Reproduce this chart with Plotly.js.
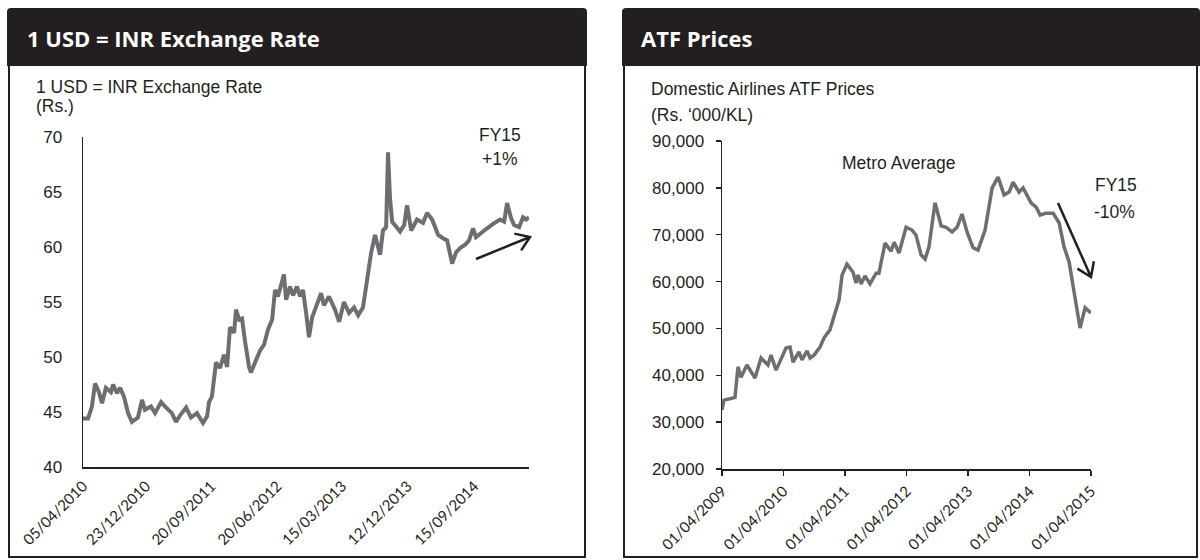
<!DOCTYPE html>
<html>
<head>
<meta charset="utf-8">
<script src="https://cdn.plot.ly/plotly-3.0.1.min.js"></script>
<style>
  html, body { margin: 0; padding: 0; background: #ffffff; }
  #chart { width: 1200px; height: 560px; }
</style>
</head>
<body>
<div id="chart"></div>
<script>
// ---------------- DATA ----------------
// Left panel: 1 USD = INR exchange rate (Rs.)
const usdDates = [
  '2010-04-05','2010-04-26','2010-05-12','2010-05-25','2010-06-10','2010-06-23','2010-07-09','2010-07-30',
  '2010-08-08','2010-08-24','2010-09-06','2010-09-22','2010-10-09','2010-10-25','2010-11-19','2010-12-06',
  '2010-12-18','2011-01-12','2011-01-29','2011-02-23','2011-03-16','2011-04-09','2011-04-26','2011-05-13',
  '2011-06-07','2011-06-27','2011-07-22','2011-08-16','2011-09-02','2011-09-10','2011-09-22','2011-10-09',
  '2011-10-26','2011-11-11','2011-11-24','2011-12-06','2011-12-23','2011-12-31','2012-01-13','2012-01-25',
  '2012-02-06','2012-02-23','2012-03-02','2012-03-23','2012-04-09','2012-04-25','2012-05-12','2012-05-29',
  '2012-06-10','2012-06-22','2012-07-05','2012-07-17','2012-07-26','2012-08-11','2012-08-24','2012-09-09',
  '2012-09-22','2012-10-04','2012-10-17','2012-10-29','2012-11-11','2012-11-27','2012-12-18','2012-12-30',
  '2013-01-20','2013-02-14','2013-03-03','2013-03-23','2013-04-13','2013-05-04','2013-05-21','2013-06-10',
  '2013-06-27','2013-07-14','2013-07-30','2013-08-20','2013-09-01','2013-09-14','2013-09-22','2013-09-30',
  '2013-10-09','2013-10-25','2013-11-11','2013-11-28','2013-12-10','2013-12-27','2014-01-20','2014-02-14',
  '2014-03-03','2014-03-24','2014-04-18','2014-05-08','2014-05-25','2014-06-15','2014-07-01','2014-07-18',
  '2014-08-08','2014-08-24','2014-09-10','2014-09-22','2014-10-17','2014-11-07','2014-12-02','2014-12-31',
  '2015-01-17','2015-01-29','2015-02-15','2015-02-27','2015-03-20','2015-04-05','2015-04-18','2015-04-30'
];
const usdValues = [
  44.4,44.4,45.5,47.6,46.8,45.8,47.2,46.8,
  47.5,46.7,47.2,46.4,44.9,44.1,44.5,46.1,
  45.2,45.5,44.9,45.9,45.4,44.9,44.1,44.7,
  45.4,44.5,44.9,44.0,44.6,45.9,46.4,49.5,
  49.0,50.2,49.1,52.7,52.2,54.3,53.4,53.5,
  51.5,49.1,48.6,49.7,50.6,51.1,52.5,53.4,
  56.1,55.5,56.7,57.5,55.2,56.4,55.6,56.4,
  55.5,56.1,54.0,51.8,53.6,54.5,55.8,54.7,
  55.5,54.3,53.2,55.0,54.0,54.5,53.8,54.5,
  57.0,59.5,61.1,59.3,61.5,61.8,68.6,64.5,
  62.3,61.8,61.4,62.0,63.8,61.5,62.5,62.2,
  63.1,62.5,61.1,60.8,60.6,58.5,59.5,59.9,
  60.2,60.6,61.7,60.9,61.4,61.7,62.1,62.5,
  62.3,64.0,62.6,62.0,61.8,62.7,62.5,62.7
];
const usdTickDates = ['2010-04-05','2010-12-23','2011-09-20','2012-06-20','2013-03-15','2013-12-12','2014-09-15'];
const usdTickText  = ['05/04/2010','23/12/2010','20/09/2011','20/06/2012','15/03/2013','12/12/2013','15/09/2014'];
const usdYTicks = [40,45,50,55,60,65,70];

// Right panel: Domestic airlines ATF prices, metro average (Rs./KL)
const atfDates = [
  '2009-04-01','2009-04-13','2009-05-30','2009-06-17','2009-07-05','2009-07-23','2009-08-27','2009-10-14',
  '2009-11-19','2009-12-30','2010-01-17','2010-02-16','2010-04-16','2010-05-10','2010-05-28','2010-07-02',
  '2010-07-20','2010-08-19','2010-09-06','2010-09-29','2010-11-04','2010-11-28','2011-01-02','2011-01-20',
  '2011-02-25','2011-03-15','2011-04-13','2011-05-19','2011-06-06','2011-06-18','2011-07-06','2011-07-29',
  '2011-08-28','2011-10-03','2011-10-20','2011-11-25','2011-12-31','2012-01-18','2012-02-16','2012-03-29',
  '2012-05-03','2012-05-27','2012-06-26','2012-07-20','2012-08-12','2012-09-17','2012-10-23','2012-11-21',
  '2012-12-27','2013-01-26','2013-02-24','2013-03-26','2013-05-01','2013-05-30','2013-07-11','2013-08-22',
  '2013-09-26','2013-11-01','2013-12-01','2013-12-24','2014-01-29','2014-02-22','2014-04-10','2014-05-10',
  '2014-06-03','2014-07-08','2014-08-19','2014-09-24','2014-10-23','2014-11-22','2014-12-27','2015-01-26',
  '2015-02-25','2015-04-01'
];
const atfValues = [
  32600,34700,35100,35300,41800,39600,42200,39400,
  43700,42200,44300,41100,45800,46000,42800,45000,
  43300,45200,43700,44300,46000,48000,49700,51800,
  56100,61400,63700,62000,59700,61400,59500,61200,
  59500,61800,61800,68200,66500,68400,66100,71600,
  71000,69900,65700,64800,67400,76800,71900,71600,
  70600,71600,74400,70600,67200,66700,71000,80000,
  82300,78500,79100,81200,79100,80000,76800,75900,
  74200,74600,74600,72500,67400,64200,56100,50100,
  54400,53300
];
const atfTickDates = ['2009-04-01','2010-04-01','2011-04-01','2012-04-01','2013-04-01','2014-04-01','2015-04-01'];
const atfTickText  = ['01/04/2009','01/04/2010','01/04/2011','01/04/2012','01/04/2013','01/04/2014','01/04/2015'];
const atfYTicks = [20000,30000,40000,50000,60000,70000,80000,90000];

// ---------------- LAYOUT HELPERS ----------------
const W = 1200, H = 560;
const px = x => x / W;
const py = y => 1 - y / H;
const INK = '#231f20';
const LINE = '#6d6e71';
const NARROW = '"Liberation Sans", Arial, sans-serif';
const HUMAN = 'Lato, "Open Sans", sans-serif';

function headerPath(x0, y0, x1, y1, r) {
  return `M ${px(x0)},${py(y1)} L ${px(x0)},${py(y0 + r)} Q ${px(x0)},${py(y0)} ${px(x0 + r)},${py(y0)} ` +
         `L ${px(x1 - r)},${py(y0)} Q ${px(x1)},${py(y0)} ${px(x1)},${py(y0 + r)} L ${px(x1)},${py(y1)} Z`;
}
function arrowPath(x0, y0, x1, y1, len, ang) {
  const a = Math.atan2(y0 - y1, x0 - x1);
  const p1 = [x1 + len * Math.cos(a + ang), y1 + len * Math.sin(a + ang)];
  const p2 = [x1 + len * Math.cos(a - ang), y1 + len * Math.sin(a - ang)];
  return `M ${px(x0)},${py(y0)} L ${px(x1)},${py(y1)} M ${px(p1[0])},${py(p1[1])} L ${px(x1)},${py(y1)} L ${px(p2[0])},${py(p2[1])}`;
}

const data = [
  { x: usdDates, y: usdValues, type: 'scatter', mode: 'lines', xaxis: 'x', yaxis: 'y',
    line: { color: LINE, width: 4 }, hoverinfo: 'skip' },
  { x: atfDates, y: atfValues, type: 'scatter', mode: 'lines', xaxis: 'x2', yaxis: 'y2',
    line: { color: LINE, width: 3.5 }, hoverinfo: 'skip' }
];

const tickFontY = { family: NARROW, size: 17, color: INK };
const tickFontX = { family: HUMAN, size: 15, color: INK };

const layout = {
  width: W, height: H,
  margin: { l: 0, r: 0, t: 0, b: 0 },
  paper_bgcolor: '#ffffff', plot_bgcolor: 'rgba(0,0,0,0)',
  showlegend: false,
  xaxis: {
    domain: [px(83), px(529)], anchor: 'y', type: 'date',
    range: ['2010-04-05', '2015-04-30'],
    tickmode: 'array', tickvals: usdTickDates, ticktext: usdTickText, tickangle: -45,
    ticks: '', showgrid: false, zeroline: false,
    showline: true, linecolor: INK, linewidth: 1.5,
    tickfont: tickFontX, ticklabelstandoff: 3
  },
  yaxis: {
    domain: [py(467), py(137)], anchor: 'x', range: [40, 70],
    tickmode: 'array', tickvals: usdYTicks,
    ticks: '', showgrid: false, zeroline: false,
    showline: true, linecolor: INK, linewidth: 1.5,
    tickfont: tickFontY, ticklabelstandoff: 16
  },
  xaxis2: {
    domain: [px(722), px(1091)], anchor: 'y2', type: 'date',
    range: ['2009-04-01', '2015-04-01'],
    tickmode: 'array', tickvals: atfTickDates, ticktext: atfTickText, tickangle: -45,
    ticks: 'outside', ticklen: 5, tickwidth: 1.5, tickcolor: INK,
    showgrid: false, zeroline: false,
    showline: true, linecolor: INK, linewidth: 1.5,
    tickfont: tickFontX, ticklabelstandoff: 1
  },
  yaxis2: {
    domain: [py(469), py(141)], anchor: 'x2', range: [20000, 90000],
    tickmode: 'array', tickvals: atfYTicks, tickformat: ',d',
    ticks: 'outside', ticklen: 5, tickwidth: 1.5, tickcolor: INK,
    showgrid: false, zeroline: false,
    showline: true, linecolor: INK, linewidth: 1.5,
    tickfont: tickFontY, ticklabelstandoff: 8
  },
  shapes: [
    { type: 'rect', xref: 'paper', yref: 'paper', x0: px(9), x1: px(585), y0: py(557), y1: py(64),
      line: { color: INK, width: 2 }, fillcolor: 'rgba(0,0,0,0)', layer: 'below' },
    { type: 'rect', xref: 'paper', yref: 'paper', x0: px(624), x1: px(1197), y0: py(557), y1: py(64),
      line: { color: INK, width: 2 }, fillcolor: 'rgba(0,0,0,0)', layer: 'below' },
    { type: 'path', xref: 'paper', yref: 'paper', path: headerPath(7, 8, 587, 66, 4),
      fillcolor: INK, line: { width: 0 }, layer: 'above' },
    { type: 'path', xref: 'paper', yref: 'paper', path: headerPath(622, 8, 1200, 66, 4),
      fillcolor: INK, line: { width: 0 }, layer: 'above' },
    { type: 'path', xref: 'paper', yref: 'paper', path: arrowPath(476, 259, 530, 237, 16, 0.6),
      line: { color: INK, width: 2.5 }, layer: 'above' },
    { type: 'path', xref: 'paper', yref: 'paper', path: arrowPath(1058, 203, 1091, 277, 16, 0.6),
      line: { color: INK, width: 2.5 }, layer: 'above' }
  ],
  annotations: [
    { xref: 'paper', yref: 'paper', x: px(25), y: py(38), xanchor: 'left', yanchor: 'middle',
      text: '<b>1 USD = INR Exchange Rate</b>', showarrow: false,
      font: { family: '"Open Sans", sans-serif', size: 22, color: '#ffffff' } },
    { xref: 'paper', yref: 'paper', x: px(639), y: py(38), xanchor: 'left', yanchor: 'middle',
      text: '<b>ATF Prices</b>', showarrow: false,
      font: { family: '"Open Sans", sans-serif', size: 22, color: '#ffffff' } },
    { xref: 'paper', yref: 'paper', x: px(34), y: py(87), xanchor: 'left', yanchor: 'middle',
      text: '1 USD = INR Exchange Rate', showarrow: false, font: { family: NARROW, size: 17.5, color: INK } },
    { xref: 'paper', yref: 'paper', x: px(34), y: py(106), xanchor: 'left', yanchor: 'middle',
      text: '(Rs.)', showarrow: false, font: { family: NARROW, size: 17.5, color: INK } },
    { xref: 'paper', yref: 'paper', x: px(649), y: py(89), xanchor: 'left', yanchor: 'middle',
      text: 'Domestic Airlines ATF Prices', showarrow: false, font: { family: NARROW, size: 17.5, color: INK } },
    { xref: 'paper', yref: 'paper', x: px(649), y: py(115), xanchor: 'left', yanchor: 'middle',
      text: '(Rs. \u2018000/KL)', showarrow: false, font: { family: NARROW, size: 17.5, color: INK } },
    { xref: 'paper', yref: 'paper', x: px(500), y: py(135), xanchor: 'center', yanchor: 'middle',
      text: 'FY15', showarrow: false, font: { family: NARROW, size: 17.5, color: INK } },
    { xref: 'paper', yref: 'paper', x: px(500), y: py(159), xanchor: 'center', yanchor: 'middle',
      text: '+1%', showarrow: false, font: { family: NARROW, size: 17.5, color: INK } },
    { xref: 'paper', yref: 'paper', x: px(899), y: py(163), xanchor: 'center', yanchor: 'middle',
      text: 'Metro Average', showarrow: false, font: { family: NARROW, size: 17.5, color: INK } },
    { xref: 'paper', yref: 'paper', x: px(1116), y: py(185), xanchor: 'center', yanchor: 'middle',
      text: 'FY15', showarrow: false, font: { family: NARROW, size: 17.5, color: INK } },
    { xref: 'paper', yref: 'paper', x: px(1114), y: py(212), xanchor: 'center', yanchor: 'middle',
      text: '-10%', showarrow: false, font: { family: NARROW, size: 17.5, color: INK } }
  ]
};

Plotly.newPlot('chart', data, layout, { staticPlot: true, displayModeBar: false });
</script>
</body>
</html>
